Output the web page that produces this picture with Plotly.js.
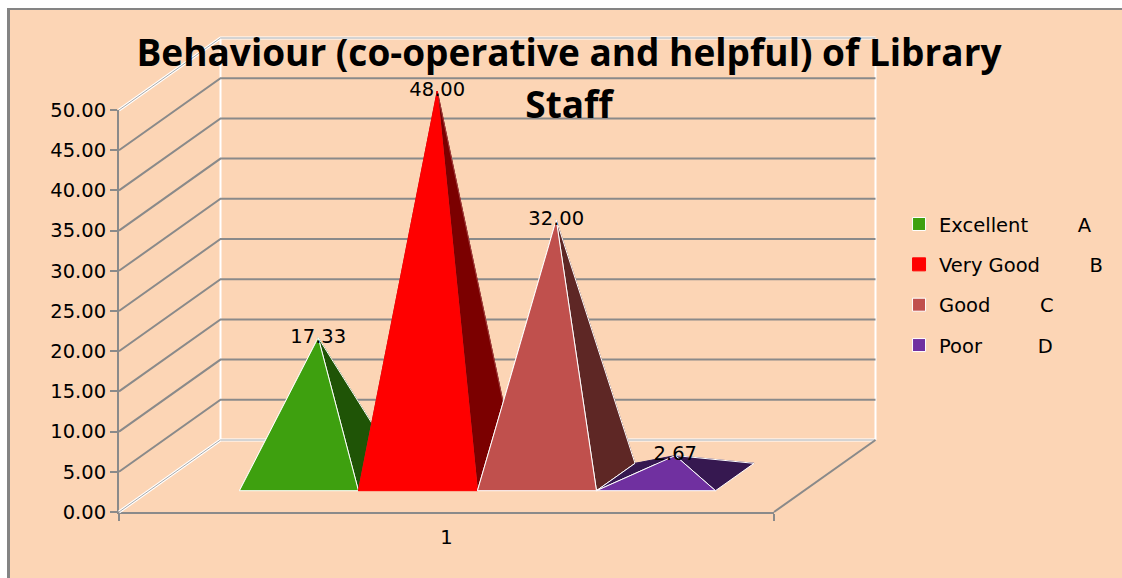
<!DOCTYPE html>
<html>
<head>
<meta charset="utf-8">
<script src="https://cdn.plot.ly/plotly-3.0.1.min.js"></script>
<style>
html,body{margin:0;padding:0;background:#fff;overflow:hidden}
#frame{position:absolute;left:7px;top:8px;border-left:3px solid #848484;border-top:2px solid #848484;width:1112px;height:568px}
#chart{width:1112px;height:568px}
</style>
</head>
<body>
<div id="frame"><div id="chart"></div></div>
<script>
var categories = ['Excellent', 'Very Good', 'Good', 'Poor'];
var grades = ['A', 'B', 'C', 'D'];
var gaps = [8, 8, 8, 9];
var values = [17.33, 48.00, 32.00, 2.67];
var frontColors = ['#3EA00F', '#FF0000', '#C0504D', '#7030A0'];
var sideColors = ['#1F5406', '#7B0000', '#5E2725', '#361850'];
var edgeColors = ['#FFFFFF', '#FF0000', '#FFFFFF', '#FFFFFF'];
var sideEdgeColors = ['#FFFFFF', '#A04040', '#FFFFFF', '#FFFFFF'];
var yTicks = [0, 5, 10, 15, 20, 25, 30, 35, 40, 45, 50];

// figure box, in pixels of the figure itself
var W = 1112, H = 568;
var axL = 109, axR = 764, axT = 100, axB = 502;

var DX = 101.5 / (axR - axL), DY = 72 * 50 / (axB - axT);   // oblique shift of the full floor depth, in data units
var slotStart = 0.138, slotWidth = 0.1817, depthFront = 0.296, depthBack = 0.676;

function px(u, w) { return u + w * DX; }
function py(v, w) { return v + w * DY; }

function path(points) {
  return {
    x: points.map(function (p) { return p ? px(p[0], p[1]) : null; }),
    y: points.map(function (p) { return p ? py(p[2], p[1]) : null; })
  };
}
function lineTrace(points, color, width) {
  var p = path(points);
  return { x: p.x, y: p.y, xaxis: 'x2', yaxis: 'y2', mode: 'lines', line: { color: color, width: width }, showlegend: false, hoverinfo: 'skip' };
}
function faceTrace(points, fill, edge) {
  var p = path(points);
  return { x: p.x, y: p.y, xaxis: 'x2', yaxis: 'y2', mode: 'lines', fill: 'toself', fillcolor: fill, line: { color: edge, width: 1 }, showlegend: false, hoverinfo: 'skip' };
}

var traces = [];

// walls
traces.push(lineTrace([[0, 1, 0], [0, 1, 50], null, [1, 1, 0], [1, 1, 50]], '#FFFFFF', 2));
var gridPts = [];
yTicks.slice(1, -1).forEach(function (v) { gridPts.push([0, 0, v], [0, 1, v], [1, 1, v], null); });
traces.push(lineTrace(gridPts, '#8A8A8A', 2));
var edges = [[0, 0, 50], [0, 1, 50], [1, 1, 50], null, [0, 0, 0], [0, 1, 0], [1, 1, 0]];
traces.push(lineTrace(edges, '#FFFFFF', 3));
traces.push(lineTrace(edges, '#A8A8A8', 1));
traces.push(lineTrace([[1, 0, 0], [1, 1, 0]], '#8A8A8A', 2));

// pyramids
var apexX = [], apexY = [];
values.forEach(function (v, i) {
  var l = slotStart + i * slotWidth, r = l + slotWidth, c = (l + r) / 2, m = (depthFront + depthBack) / 2;
  var fl = [l, depthFront, 0], fr = [r, depthFront, 0], bl = [l, depthBack, 0], br = [r, depthBack, 0], apex = [c, m, v];
  traces.push(faceTrace([fl, apex, bl, fl], sideColors[i], sideEdgeColors[i]));
  traces.push(faceTrace([bl, apex, br, bl], sideColors[i], sideColors[i]));
  traces.push(faceTrace([fr, apex, br, fr], sideColors[i], sideEdgeColors[i]));
  traces.push(faceTrace([fl, apex, fr, fl], frontColors[i], edgeColors[i]));
  apexX.push(px(c, m));
  apexY.push(py(v, m));
});

// value labels
traces.push({
  x: apexX, y: apexY, xaxis: 'x2', yaxis: 'y2', mode: 'text', text: values.map(function (v) { return v.toFixed(2); }),
  textposition: 'middle center', textfont: { family: 'DejaVu Sans', size: 19.5, color: '#000' },
  showlegend: false, hoverinfo: 'skip'
});

// legend entries
categories.forEach(function (c, i) {
  traces.push({
    x: [null], y: [null], mode: 'markers', name: c + ' '.repeat(gaps[i]) + grades[i], legendgroup: c,
    marker: { symbol: 'square', size: 13, color: frontColors[i], line: { color: edgeColors[i], width: 1 } }
  });
});

var pxPerX = axR - axL, pxPerY = (axB - axT) / 50;

var layout = {
  width: W, height: H, autosize: false,
  paper_bgcolor: '#FCD5B5', plot_bgcolor: 'rgba(0,0,0,0)',
  margin: { l: 0, r: 0, t: 0, b: 0, pad: 0 },
  hovermode: false,
  title: {
    text: '<span style="font-size:37px">Behaviour (co-operative and helpful) of Library<br>Staff</span>',
    font: { family: 'Open Sans', size: 40, weight: 700, color: '#000' },
    x: 0.5027, xref: 'container', xanchor: 'center', y: 0.902, yref: 'container', yanchor: 'top'
  },
  xaxis: {
    domain: [axL / W, axR / W], range: [0, 1], fixedrange: true, showgrid: false, zeroline: false, showline: true, linecolor: '#8A8A8A', linewidth: 2,
    tickmode: 'array', tickvals: [0.5], ticktext: ['1'], ticks: '', ticklabelstandoff: 7,
    tickfont: { family: 'DejaVu Sans', size: 19.5, color: '#000' },
    minor: { tickmode: 'array', tickvals: [0, 1], ticks: 'outside', ticklen: 7, tickwidth: 2, tickcolor: '#8A8A8A', showgrid: false }
  },
  yaxis: {
    domain: [(H - axB) / H, (H - axT) / H], range: [0, 50], fixedrange: true, showgrid: false, zeroline: false, showline: true, linecolor: '#8A8A8A', linewidth: 2,
    tickmode: 'array', tickvals: yTicks, tickformat: '.2f', ticks: 'outside', ticklen: 7, tickwidth: 2, tickcolor: '#8A8A8A',
    tickfont: { family: 'DejaVu Sans', size: 19.5, color: '#000' }
  },
  xaxis2: { domain: [0, 1], range: [-axL / pxPerX, (W - axL) / pxPerX], anchor: 'y2', visible: false, fixedrange: true },
  yaxis2: { domain: [0, 1], range: [-(H - axB) / pxPerY, axB / pxPerY], anchor: 'x2', visible: false, fixedrange: true },
  legend: {
    x: 0.7995, xanchor: 'left', y: 0.657, yanchor: 'top', bgcolor: 'rgba(0,0,0,0)', borderwidth: 0,
    tracegroupgap: 12, font: { family: 'DejaVu Sans', size: 19.5, color: '#000' }
  }
};

Plotly.newPlot('chart', traces, layout, { displayModeBar: false, responsive: false });
</script>
</body>
</html>
